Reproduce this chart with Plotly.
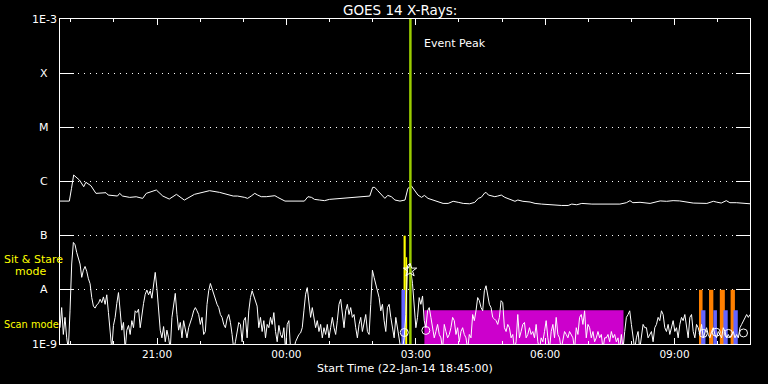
import math
import pandas as pd
import plotly.graph_objects as go

# ---------------- data ----------------
start_time = "2014-01-22 18:45"
end_time = "2014-01-23 10:45"
event_peak = "2014-01-23 02:52:30"

# GOES 14 long channel (1-8 A), flux in nW/m^2 (x1e-9 W/m^2), times HH:MM
long_times = ["18:45","18:58","19:01","19:04","19:12","19:18","19:21","19:28","19:35","19:49",
              "19:52","20:05","20:08","20:12","20:22","20:31","20:40","20:45","20:59","21:08",
              "21:17","21:27","21:38","21:52","22:13","22:27","22:46","22:52","23:02","23:06",
              "23:11","23:16","23:20","23:25","23:32","23:39","23:44","23:48","23:53","23:58",
              "00:25","00:30","00:35","00:39","00:46","00:53","01:00","01:09","01:19","01:28",
              "01:37","01:47","01:56","02:00","02:03","02:07","02:12","02:17","02:21","02:26",
              "02:31","02:38","02:45","02:49","02:54","02:58","03:03","03:08","03:12","03:17",
              "03:24","03:31","03:38","03:45","03:52","03:59","04:06","04:15","04:22","04:27",
              "04:31","04:36","04:38","04:41","04:45","04:50","04:54","04:59","05:04","05:11",
              "05:18","05:22","05:29","05:39","05:46","05:55","06:04","06:23","06:32","06:37",
              "06:44","06:51","07:05","07:14","07:23","07:30","07:44","07:53","07:58","08:02",
              "08:12","08:26","08:33","08:40","08:49","08:58","09:07","09:17","09:26","09:45",
              "09:54","09:58","10:05","10:12","10:17","10:26","10:35","10:45"]
long_nW = [435,435,748,1318,1066,801,967,836,604,621,
           562,539,604,539,509,523,488,604,697,539,
           474,579,454,579,677,630,539,539,509,488,
           539,604,562,524,524,539,547,509,468,435,
           435,524,509,468,455,443,468,481,495,509,
           516,524,539,779,779,679,562,488,554,524,
           455,435,455,746,826,679,562,509,554,488,
           455,413,394,394,431,413,394,388,412,488,
           509,617,626,562,539,524,539,562,509,468,
           431,455,431,418,394,383,372,361,361,383,
           372,394,383,383,372,372,383,406,443,406,
           413,394,418,438,431,443,438,418,400,394,
           431,418,400,443,406,406,400,388]

# GOES 14 short channel (0.5-4 A), flux in nW/m^2, evenly sampled from start to end
short_nW = [
    2.0, 4.7, 1.5, 3.1, 1.3, 0.8, 4.1, 30, 75, 68,
    49, 39, 30, 17, 23, 27, 22, 16, 13, 7.2,
    5.0, 4.6, 5.3, 5.6, 6.7, 5.8, 7.4, 5.4, 8.1, 3.8,
    1.7, 0.8, 2.2, 3.1, 5.6, 8.9, 4.1, 1.8, 2.5, 0.8,
    1.8, 2.2, 1.5, 2.7, 2.0, 4.1, 3.8, 4.4, 2.0, 3.5,
    5.6, 8.3, 9.9, 8.1, 9.6, 7.0, 13, 21, 10.7, 4.1,
    1.8, 1.3, 2.1, 1.1, 1.8, 1.3, 0.8, 3.1, 5.6, 8.6,
    3.5, 1.8, 2.5, 1.3, 2.7, 1.8, 1.3, 2.0, 2.4, 3.1,
    4.1, 4.7,
    4.1, 3.5, 2.3, 3.1, 1.5, 1.7, 5.4, 9.6, 13.1, 10.3,
    8.3, 6.7, 5.4, 4.7, 3.5, 3.1, 2.3, 2.0, 2.9, 3.5,
    2.5, 1.5, 0.8, 1.1, 1.7, 2.5, 2.3, 1.1, 2.7, 3.1,
    1.3, 4.1, 7.2, 9.6, 7.7, 6.3, 5.0, 2.0, 3.1, 1.7,
    2.7, 1.3, 2.3, 2.0, 3.1, 2.3, 3.8, 1.7, 1.1, 2.2,
    1.5, 1.3, 2.0, 0.8, 2.3, 2.7, 0.8, 0.8, 0.8, 1.1,
    1.3, 1.5, 1.6, 2.0, 4.1, 8.3, 11, 5.4, 3.1, 4.7,
    3.1, 2.0, 2.7, 1.7, 2.3, 1.3, 2.0, 1.5, 2.3, 1.3,
    2.0, 3.1,
    2.0, 1.5, 2.7, 5.4, 6.7, 3.1, 2.0, 4.1, 5.4, 3.5,
    4.7, 3.1, 3.5, 2.0, 1.3, 2.3, 3.1, 1.7, 2.7, 3.5,
    1.7, 1.5, 5.4, 23, 17, 13, 8.9, 7.2, 4.1, 5.4,
    2.7, 1.7, 4.7, 5.4, 3.1, 2.0, 1.3, 3.1, 2.0, 1.3,
    0.8, 0.8, 1.3, 3.5, 28, 30, 22, 13, 5.4, 2.0,
    3.1, 7.2, 5.4, 7.7, 2.7, 2.0, 4.1, 4.7, 3.1, 2.0,
    1.3, 1.7, 2.3, 1.5, 1.3, 0.8, 2.3, 1.7, 1.3, 1.5,
    2.0, 3.1, 2.7, 1.5, 2.0, 1.1, 1.7, 2.0, 1.5, 1.3,
    0.8, 1.5,
    1.3, 3.5, 2.7, 4.1, 7.2, 6.3, 4.7, 4.1, 9.6, 11.9,
    7.2, 5.4, 4.7, 3.1, 2.9, 2.7, 2.3, 3.1, 6.3, 5.8,
    2.0, 1.7, 2.3, 2.0, 1.3, 1.5, 0.8, 1.1, 3.5, 1.3,
    1.7, 2.3, 2.5, 1.3, 1.5, 2.0, 1.5, 1.7, 1.3, 2.3,
    1.1, 0.8, 1.3, 1.1, 1.7, 2.7, 1.3, 0.8, 1.7, 2.3,
    1.3, 3.1, 1.5, 1.3, 0.8, 1.1, 1.7, 1.5, 1.3, 1.7,
    1.5, 1.3, 0.8, 2.0, 1.5, 3.1, 3.5, 2.3, 4.1, 1.3,
    2.3, 2.0, 1.3, 1.7, 1.1, 1.3, 1.7, 1.3, 1.5, 0.8,
    1.3,
    1.3, 1.5, 1.1, 1.7, 1.3, 1.5, 1.1, 1.3, 0.8, 1.5,
    0.8, 1.7, 3.1, 3.5, 4.1, 2.3, 1.3, 0.8, 1.3, 1.7,
    0.8, 1.3, 2.3, 2.0, 2.0, 1.3, 1.5, 1.7, 1.1, 2.0,
    2.3, 3.1, 2.7, 4.1, 3.5, 2.0, 1.7, 2.3, 1.5, 2.0,
    2.7, 1.7, 2.0, 1.3, 2.3, 3.1, 2.7, 3.5, 2.0, 1.3,
    3.1, 3.5, 1.7, 1.3, 2.3, 2.0, 1.5, 2.3, 1.3, 1.7,
    2.0, 1.5, 1.3, 1.7, 2.0, 1.5, 1.3, 1.7, 1.5, 1.3,
    2.0, 1.7, 1.3, 1.5, 1.3, 1.5, 1.7, 1.3, 1.5, 1.3,
    2.0, 2.3, 2.7, 3.1, 3.5, 3.1, 3.5,
]

# observing-mode intervals: (start HH:MM, end HH:MM, top flux W/m^2)
sit_stare_bars = [("02:43", "02:46", 1e-7), ("02:46", "02:48", 4e-8)]
scan_bars_event = [("02:40", "02:45", 1e-8)]
orange_bars = [("09:34", "09:39", 1e-8), ("09:48", "09:54", 1e-8),
               ("10:03", "10:10", 1e-8), ("10:18", "10:24", 1e-8)]
blue_bars = [("09:37", "09:43", 4.2e-9), ("09:54", "09:59", 4.2e-9),
             ("10:08", "10:14", 4.2e-9), ("10:22", "10:28", 4.2e-9)]
magenta_bars = [("03:12", "07:49", 4.2e-9)]

# event glyphs
star_time, star_nW = "02:52", 23
circle_times = ["02:44", "03:14", "09:40", "09:58", "10:15", "10:36"]
circle_nW = [1.63, 1.78, 1.57, 1.65, 1.57, 1.6]

ytick_vals = [1e-9, 1e-8, 1e-7, 1e-6, 1e-5, 1e-4, 1e-3]
ytick_text = ["1E-9", "A", "B", "C", "M", "X", "1E-3"]

# ---------------- helpers ----------------
def to_dt(hhmm):
    h = int(hhmm.split(":")[0])
    day = "2014-01-22" if h >= 18 else "2014-01-23"
    return pd.Timestamp(f"{day} {hhmm}")

FLOOR = 1e-9
FONT = "DejaVu Sans"

fig = go.Figure()

def add_bars(bars, color):
    for s, e, top in bars:
        t0, t1 = to_dt(s), to_dt(e)
        fig.add_trace(go.Scatter(x=[t0, t0, t1, t1, t0], y=[FLOOR, top, top, FLOOR, FLOOR],
                                 mode="lines", fill="toself", fillcolor=color,
                                 line=dict(width=0, color=color), hoverinfo="skip",
                                 showlegend=False))

add_bars(magenta_bars, "#cc00cc")
add_bars(orange_bars, "#ff8000")
add_bars(sit_stare_bars, "#ffff00")
add_bars(scan_bars_event, "#6464ff")
add_bars(blue_bars, "#6464ff")

# curves
long_x = [to_dt(t) for t in long_times]
fig.add_trace(go.Scatter(x=long_x, y=[v * 1e-9 for v in long_nW], mode="lines",
                         line=dict(color="white", width=1), showlegend=False))
short_x = pd.date_range(start_time, end_time, periods=len(short_nW))
fig.add_trace(go.Scatter(x=short_x, y=[v * 1e-9 for v in short_nW], mode="lines",
                         line=dict(color="white", width=1), showlegend=False))

# event peak line
pk = pd.Timestamp(event_peak)
fig.add_trace(go.Scatter(x=[pk, pk], y=[1e-9, 1e-3], mode="lines",
                         line=dict(color="#9acd00", width=2.5), showlegend=False))

# glyphs
fig.add_trace(go.Scatter(x=[to_dt(star_time)], y=[star_nW * 1e-9], mode="markers",
                         marker=dict(symbol="star-open", size=10, color="white",
                                     line=dict(width=1, color="white")), showlegend=False))
fig.add_trace(go.Scatter(x=[to_dt(t) for t in circle_times], y=[v * 1e-9 for v in circle_nW],
                         mode="markers",
                         marker=dict(symbol="circle-open", size=8, color="white",
                                     line=dict(width=1, color="white")), showlegend=False))

# ---------------- layout ----------------
L, R, T, B = 60, 18, 19, 40
W, H = 768, 384
pw, ph = W - L - R, H - T - B

def px(x):
    return (x - L) / pw

def py(y):
    return (H - B - y) / ph

fig.update_layout(
    width=W, height=H,
    margin=dict(l=L, r=R, t=T, b=B, pad=0),
    paper_bgcolor="black", plot_bgcolor="black",
    font=dict(family=FONT, color="white", size=11),
    showlegend=False,
    xaxis=dict(type="date", range=[start_time, end_time],
               showline=True, linecolor="white", linewidth=1, mirror="ticks",
               ticks="inside", ticklen=6, tickwidth=1, tickcolor="white",
               tick0="2014-01-22 21:00", dtick=3 * 3600000, tickformat="%H:%M",
               minor=dict(ticks="inside", ticklen=3, tickcolor="white", dtick=3600000,
                          tick0="2014-01-22 19:00", showgrid=False),
               showgrid=False, zeroline=False,
               tickfont=dict(family=FONT, size=10.5, color="white")),
    yaxis=dict(type="log", range=[-9, -3],
               showline=True, linecolor="white", linewidth=1, mirror="ticks",
               ticks="inside", ticklen=14, tickwidth=1, tickcolor="white",
               tickvals=ytick_vals, showticklabels=False,
               showgrid=True, gridcolor="white", gridwidth=1, griddash="1px,5px",
               zeroline=False),
)

ann = []
for v, t in zip(ytick_vals, ytick_text):
    ann.append(dict(x=px(44), y=math.log10(v), xref="paper", yref="y", text=t,
                    showarrow=False, xanchor="center", yanchor="middle",
                    font=dict(family=FONT, size=11, color="white")))
ann += [
    dict(x=px(400), y=py(10), xref="paper", yref="paper", text="GOES 14 X-Rays:",
         showarrow=False, xanchor="center", yanchor="middle",
         font=dict(family=FONT, size=13.5, color="white")),
    dict(x=px(405), y=py(368), xref="paper", yref="paper",
         text="Start Time (22-Jan-14 18:45:00)", showarrow=False,
         xanchor="center", yanchor="middle", font=dict(family=FONT, size=11, color="white")),
    dict(x=px(421.5), y=py(43), xref="paper", yref="paper", text="Event Peak",
         showarrow=False, xanchor="left", yanchor="middle",
         font=dict(family=FONT, size=11, color="white")),
    dict(x=px(1.5), y=py(259), xref="paper", yref="paper", text="Sit & Stare",
         showarrow=False, xanchor="left", yanchor="middle",
         font=dict(family=FONT, size=11, color="#ffff00")),
    dict(x=px(12.5), y=py(271), xref="paper", yref="paper", text="mode",
         showarrow=False, xanchor="left", yanchor="middle",
         font=dict(family=FONT, size=11, color="#ffff00")),
    dict(x=px(1.5), y=py(324), xref="paper", yref="paper", text="Scan mode",
         showarrow=False, xanchor="left", yanchor="middle",
         font=dict(family=FONT, size=9.8, color="#ffff00")),
]
fig.update_layout(annotations=ann)

fig.write_html("out.html")
